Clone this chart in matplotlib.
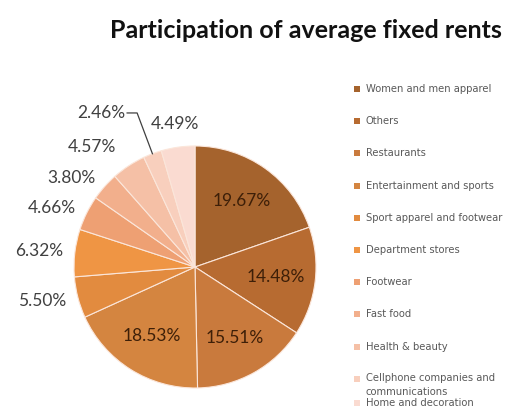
import numpy as np
import matplotlib.pyplot as plt

plt.rcParams['font.family'] = ['Lato', 'DejaVu Sans']

categories = ['Women and men apparel', 'Others', 'Restaurants',
              'Entertainment and sports', 'Sport apparel and footwear',
              'Department stores', 'Footwear', 'Fast food', 'Health & beauty',
              'Cellphone companies and\ncommunications', 'Home and decoration']
shares = [19.67, 14.48, 15.51, 18.53, 5.50, 6.32, 4.66, 3.80, 4.57, 2.46, 4.49]
colors = ['#a5632d', '#b76b31', '#c97a3d', '#d48540', '#e28b3f', '#ef9544',
          '#eea073', '#f2af8c', '#f5c0a6', '#f8cfbd', '#fadbd1']

W, H = 521, 420
fig = plt.figure(figsize=(W / 100, H / 100), dpi=100)
ax = fig.add_axes([0, 0, 1, 1])

cx, cy, r = 195, H - 267, 121
wedges, _ = ax.pie(shares, colors=colors, startangle=90, counterclock=False,
                   center=(cx, cy), radius=r, frame=True,
                   wedgeprops=dict(edgecolor='#fbe6da', linewidth=0.8))
ax.set_xlim(0, W)
ax.set_ylim(0, H)
ax.set_aspect('equal')
ax.axis('off')

# label placement: big slices inside, small ones outside on the left
outer_r = {4: 1.1, 5: 1.1, 6: 1.1, 7: 1.1, 8: 1.19, 9: 1.36, 10: 1.19}
lab_fs = 12.5
for i, (w, v) in enumerate(zip(wedges, shares)):
    ang = np.deg2rad((w.theta1 + w.theta2) / 2)
    ca, sa = np.cos(ang), np.sin(ang)
    txt = f'{v:.2f}%'
    if i < 4:
        ax.text(cx + 0.67 * r * ca, cy + 0.67 * r * sa, txt, ha='center',
                va='center', fontsize=lab_fs, color='#3d1f08')
        continue
    k = outer_r[i]
    x, y = cx + k * r * ca, cy + k * r * sa
    if i == 9:
        ax.plot([cx + r * ca, x, x - 10], [cy + r * sa, y, y],
                color='#404040', lw=0.9)
        ax.text(x - 12, y, txt, ha='right', va='center', fontsize=lab_fs,
                color='#404040')
    elif i == 10:
        ax.text(x, y, txt, ha='center', va='center', fontsize=lab_fs,
                color='#404040')
    else:
        ax.text(x, y, txt, ha='right', va='center', fontsize=lab_fs,
                color='#404040')

# legend drawn by hand, Excel style
ly = [89 + 32.2 * i for i in range(10)] + [403]
for i, lab in enumerate(categories):
    y = H - ly[i]
    ax.add_patch(plt.Rectangle((354, y - 3), 6, 6, color=colors[i], lw=0))
    if '\n' in lab:
        ax.text(366, y + 6, lab, ha='left', va='top', fontsize=7.2,
                family='DejaVu Sans', color='#595959', linespacing=1.5)
    else:
        ax.text(366, y, lab, ha='left', va='center', fontsize=7.2,
                family='DejaVu Sans', color='#595959')

fig.text(306 / W, 1 - 30 / H, 'Participation of average fixed rents',
         ha='center', va='center', fontsize=18, fontweight='bold',
         color='#111111')

fig.savefig('out.png', dpi=100)
